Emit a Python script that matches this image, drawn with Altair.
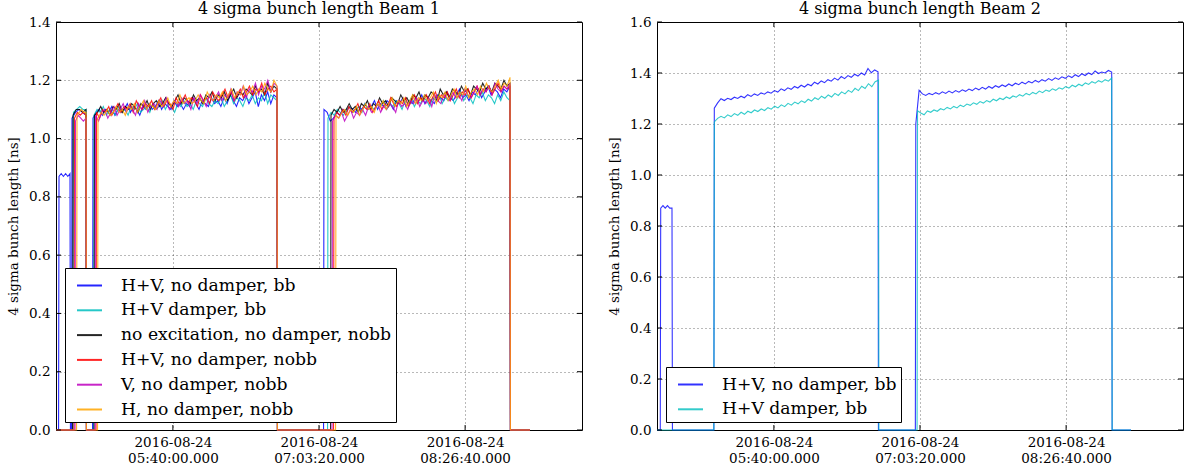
import altair as alt
import numpy as np
import pandas as pd

DAY = "2016-08-24"
X_MIN = "04:33:20"
X_MAX = "09:33:20"
DATA_START = "04:33:20"
DATA_END = "09:03:40"
X_TICKS = ["05:40:00", "07:03:20", "08:26:40"]

B1_NAMES = [
    "H+V, no damper, bb",
    "H+V damper, bb",
    "no excitation, no damper, nobb",
    "H+V, no damper, nobb",
    "V, no damper, nobb",
    "H, no damper, nobb",
]
B1_COLORS = ["#0000ff", "#00bfbf", "#000000", "#ff0000", "#bf00bf", "#ffa500"]
B2_NAMES = ["H+V, no damper, bb", "H+V damper, bb"]
B2_COLORS = ["#0000ff", "#00bfbf"]

B1_Y_TICKS = [0.0, 0.2, 0.4, 0.6, 0.8, 1.0, 1.2, 1.4]
B2_Y_TICKS = [0.0, 0.2, 0.4, 0.6, 0.8, 1.0, 1.2, 1.4, 1.6]

# ---------------- Beam 1 ----------------
b1_blue_spans = [("04:35:03", "04:41:19"), ("04:42:28", "04:50:27"),
                 ("04:54:26", "06:39:23"), ("07:06:11", "08:52:16")]
b1_blue_vals = [
    [0.87, 0.88, 0.87, 0.88, 0.87, 0.88],
    [1.07, 1.09, 1.10, 1.09, 1.08],
    [1.07, 1.09, 1.10, 1.08, 1.10, 1.09, 1.11, 1.08, 1.10, 1.09,
     1.10, 1.12, 1.09, 1.11, 1.10, 1.08, 1.11, 1.10, 1.12, 1.10,
     1.11, 1.13, 1.10, 1.12, 1.11, 1.10, 1.13, 1.11, 1.12, 1.10,
     1.12, 1.11, 1.14, 1.12, 1.10, 1.13, 1.12, 1.11, 1.14, 1.12,
     1.13, 1.11, 1.14, 1.12, 1.15, 1.13, 1.11, 1.14, 1.13, 1.15,
     1.12, 1.14, 1.16, 1.11, 1.15, 1.13, 1.16, 1.12, 1.15, 1.14],
    [1.10, 1.09, 1.06, 1.07, 1.09, 1.08, 1.10, 1.09, 1.11, 1.10,
     1.09, 1.11, 1.10, 1.12, 1.10, 1.11, 1.13, 1.10, 1.12, 1.11,
     1.13, 1.12, 1.10, 1.13, 1.12, 1.14, 1.11, 1.13, 1.12, 1.14,
     1.13, 1.15, 1.12, 1.14, 1.13, 1.12, 1.15, 1.14, 1.13, 1.16,
     1.14, 1.13, 1.15, 1.17, 1.14, 1.15, 1.13, 1.16, 1.15, 1.17,
     1.14, 1.16, 1.18, 1.15, 1.17, 1.16, 1.14, 1.17, 1.16, 1.18],
]
b1_cyan_spans = [("04:43:19", "04:50:27"), ("04:55:00", "06:39:23"), ("07:08:28", "08:52:16")]
b1_cyan_vals = [
    [1.09, 1.10, 1.11, 1.10, 1.10],
    [1.08, 1.10, 1.09, 1.11, 1.08, 1.10, 1.09, 1.08, 1.11, 1.09,
     1.10, 1.08, 1.11, 1.10, 1.12, 1.09, 1.10, 1.11, 1.09, 1.12,
     1.10, 1.11, 1.13, 1.10, 1.12, 1.11, 1.09, 1.12, 1.11, 1.13,
     1.11, 1.12, 1.10, 1.13, 1.12, 1.11, 1.14, 1.12, 1.11, 1.13,
     1.12, 1.14, 1.11, 1.13, 1.15, 1.12, 1.14, 1.13, 1.11, 1.14,
     1.13, 1.15, 1.12, 1.14, 1.13, 1.16, 1.12, 1.15, 1.14, 1.13],
    [1.07, 1.09, 1.08, 1.10, 1.09, 1.08, 1.10, 1.11, 1.09, 1.10,
     1.11, 1.09, 1.12, 1.10, 1.11, 1.10, 1.12, 1.11, 1.13, 1.10,
     1.12, 1.11, 1.13, 1.12, 1.10, 1.13, 1.12, 1.14, 1.11, 1.13,
     1.12, 1.14, 1.13, 1.11, 1.14, 1.13, 1.15, 1.12, 1.14, 1.13,
     1.15, 1.12, 1.14, 1.16, 1.13, 1.15, 1.14, 1.12, 1.15, 1.14,
     1.16, 1.13, 1.15, 1.14, 1.12, 1.15, 1.13, 1.16, 1.14, 1.13],
]
b1_black_spans = [("04:43:02", "04:50:27"), ("04:55:17", "06:39:23"), ("07:10:11", "08:52:16")]
b1_black_vals = [
    [1.08, 1.10, 1.10, 1.09, 1.10],
    [1.08, 1.09, 1.11, 1.09, 1.10, 1.08, 1.11, 1.10, 1.12, 1.09,
     1.11, 1.10, 1.12, 1.11, 1.09, 1.12, 1.11, 1.13, 1.10, 1.12,
     1.13, 1.11, 1.12, 1.14, 1.12, 1.11, 1.13, 1.15, 1.12, 1.14,
     1.13, 1.12, 1.15, 1.13, 1.14, 1.12, 1.15, 1.14, 1.16, 1.13,
     1.15, 1.14, 1.16, 1.13, 1.15, 1.17, 1.14, 1.16, 1.15, 1.17,
     1.16, 1.15, 1.18, 1.16, 1.17, 1.15, 1.19, 1.16, 1.18, 1.17],
    [1.08, 1.10, 1.09, 1.11, 1.09, 1.10, 1.12, 1.10, 1.11, 1.09,
     1.12, 1.11, 1.13, 1.10, 1.12, 1.11, 1.14, 1.12, 1.13, 1.11,
     1.14, 1.13, 1.12, 1.15, 1.13, 1.14, 1.12, 1.15, 1.14, 1.16,
     1.13, 1.15, 1.14, 1.16, 1.15, 1.13, 1.17, 1.15, 1.16, 1.14,
     1.17, 1.16, 1.15, 1.18, 1.16, 1.17, 1.15, 1.18, 1.17, 1.16,
     1.19, 1.17, 1.18, 1.16, 1.19, 1.18, 1.17, 1.20, 1.18, 1.19],
]
b1_red_spans = [("04:43:53", "04:50:27"), ("04:56:26", "06:39:23"), ("07:11:53", "08:52:16")]
b1_red_vals = [
    [1.07, 1.09, 1.08, 1.09, 1.08],
    [1.09, 1.07, 1.10, 1.09, 1.11, 1.08, 1.10, 1.12, 1.09, 1.11,
     1.10, 1.12, 1.09, 1.13, 1.11, 1.10, 1.12, 1.11, 1.13, 1.10,
     1.12, 1.14, 1.11, 1.13, 1.12, 1.10, 1.14, 1.12, 1.13, 1.15,
     1.12, 1.14, 1.13, 1.11, 1.15, 1.13, 1.14, 1.12, 1.16, 1.14,
     1.13, 1.15, 1.17, 1.14, 1.16, 1.13, 1.15, 1.17, 1.14, 1.16,
     1.18, 1.15, 1.17, 1.16, 1.19, 1.15, 1.17, 1.18, 1.16, 1.17],
    [1.07, 1.09, 1.08, 1.10, 1.08, 1.11, 1.09, 1.10, 1.12, 1.09,
     1.11, 1.10, 1.12, 1.09, 1.11, 1.13, 1.10, 1.12, 1.11, 1.14,
     1.12, 1.11, 1.13, 1.12, 1.14, 1.11, 1.13, 1.15, 1.12, 1.14,
     1.13, 1.15, 1.12, 1.14, 1.16, 1.13, 1.15, 1.14, 1.16, 1.13,
     1.15, 1.17, 1.14, 1.16, 1.15, 1.17, 1.14, 1.16, 1.18, 1.15,
     1.17, 1.16, 1.18, 1.15, 1.17, 1.19, 1.16, 1.18, 1.17, 1.18],
]
b1_magenta_spans = [("04:44:27", "04:50:27"), ("04:55:52", "06:39:23"), ("07:11:02", "08:52:16")]
b1_magenta_vals = [
    [1.06, 1.08, 1.07, 1.06, 1.07],
    [1.08, 1.06, 1.09, 1.10, 1.07, 1.09, 1.11, 1.08, 1.10, 1.12,
     1.09, 1.11, 1.10, 1.08, 1.12, 1.10, 1.13, 1.09, 1.11, 1.12,
     1.10, 1.13, 1.11, 1.14, 1.10, 1.12, 1.13, 1.11, 1.14, 1.12,
     1.13, 1.10, 1.14, 1.12, 1.15, 1.13, 1.11, 1.15, 1.13, 1.14,
     1.16, 1.13, 1.15, 1.14, 1.17, 1.13, 1.16, 1.15, 1.18, 1.14,
     1.17, 1.16, 1.19, 1.15, 1.18, 1.17, 1.20, 1.16, 1.19, 1.18],
    [1.06, 1.08, 1.07, 1.09, 1.06, 1.08, 1.10, 1.07, 1.09, 1.08,
     1.10, 1.08, 1.11, 1.09, 1.10, 1.12, 1.09, 1.11, 1.10, 1.12,
     1.11, 1.09, 1.13, 1.11, 1.12, 1.10, 1.13, 1.12, 1.14, 1.11,
     1.13, 1.12, 1.14, 1.11, 1.15, 1.13, 1.12, 1.15, 1.14, 1.13,
     1.16, 1.14, 1.15, 1.13, 1.17, 1.15, 1.14, 1.16, 1.18, 1.15,
     1.17, 1.16, 1.18, 1.15, 1.19, 1.17, 1.16, 1.18, 1.17, 1.19],
]
b1_orange_spans = [("04:45:19", "04:50:27"), ("04:57:17", "06:39:23"), ("07:13:02", "08:52:16")]
b1_orange_vals = [
    [1.08, 1.09, 1.10, 1.09, 1.09],
    [1.07, 1.09, 1.08, 1.10, 1.08, 1.09, 1.11, 1.09, 1.10, 1.08,
     1.11, 1.10, 1.12, 1.09, 1.11, 1.13, 1.10, 1.12, 1.11, 1.10,
     1.13, 1.11, 1.12, 1.14, 1.11, 1.13, 1.12, 1.15, 1.12, 1.13,
     1.14, 1.12, 1.13, 1.15, 1.13, 1.12, 1.16, 1.14, 1.13, 1.15,
     1.14, 1.16, 1.13, 1.15, 1.17, 1.14, 1.16, 1.15, 1.18, 1.15,
     1.16, 1.18, 1.15, 1.17, 1.16, 1.19, 1.17, 1.16, 1.20, 1.18],
    [1.08, 1.07, 1.09, 1.10, 1.08, 1.10, 1.09, 1.11, 1.08, 1.10,
     1.12, 1.10, 1.11, 1.09, 1.12, 1.11, 1.13, 1.10, 1.12, 1.14,
     1.11, 1.13, 1.12, 1.14, 1.11, 1.13, 1.15, 1.12, 1.14, 1.13,
     1.15, 1.13, 1.14, 1.16, 1.12, 1.15, 1.14, 1.16, 1.13, 1.15,
     1.17, 1.14, 1.16, 1.15, 1.18, 1.14, 1.16, 1.17, 1.15, 1.18,
     1.16, 1.19, 1.17, 1.16, 1.18, 1.20, 1.17, 1.19, 1.18, 1.21],
]

# ---------------- Beam 2 ----------------
b2_blue_spans = [("04:35:27", "04:41:53"), ("05:06:01", "06:39:23"), ("07:00:56", "08:52:40")]
b2_blue_vals = [
    [0.87, 0.88, 0.87, 0.88, 0.87, 0.87],
    [1.262, 1.283, 1.299, 1.292, 1.301, 1.296, 1.305, 1.300, 1.309, 1.303,
     1.315, 1.308, 1.318, 1.312, 1.322, 1.317, 1.326, 1.321, 1.331, 1.325,
     1.338, 1.331, 1.342, 1.336, 1.347, 1.341, 1.352, 1.345, 1.356, 1.350,
     1.364, 1.357, 1.369, 1.362, 1.374, 1.368, 1.380, 1.372, 1.386, 1.378,
     1.390, 1.383, 1.395, 1.388, 1.400, 1.392, 1.418, 1.401, 1.412, 1.405],
    [1.200, 1.332, 1.318, 1.312, 1.320, 1.315, 1.323, 1.317, 1.326, 1.320,
     1.329, 1.322, 1.331, 1.325, 1.334, 1.328, 1.337, 1.331, 1.341, 1.334,
     1.344, 1.337, 1.347, 1.340, 1.350, 1.344, 1.353, 1.347, 1.357, 1.350,
     1.360, 1.354, 1.364, 1.357, 1.367, 1.361, 1.371, 1.364, 1.374, 1.368,
     1.378, 1.371, 1.381, 1.375, 1.385, 1.379, 1.389, 1.382, 1.393, 1.386,
     1.397, 1.390, 1.400, 1.394, 1.408, 1.398, 1.404, 1.400, 1.410, 1.404],
]
b2_cyan_spans = [("05:06:01", "06:39:40"), ("07:01:55", "08:52:40")]
b2_cyan_vals = [
    [1.208, 1.222, 1.230, 1.224, 1.236, 1.229, 1.241, 1.234, 1.246, 1.238,
     1.250, 1.244, 1.255, 1.249, 1.259, 1.253, 1.264, 1.258, 1.270, 1.263,
     1.275, 1.268, 1.281, 1.274, 1.286, 1.279, 1.291, 1.284, 1.297, 1.290,
     1.303, 1.296, 1.309, 1.301, 1.314, 1.306, 1.320, 1.312, 1.326, 1.318,
     1.332, 1.324, 1.340, 1.331, 1.348, 1.339, 1.358, 1.346, 1.366, 1.372],
    [1.252, 1.243, 1.236, 1.251, 1.246, 1.255, 1.250, 1.260, 1.255, 1.265,
     1.259, 1.269, 1.263, 1.274, 1.268, 1.278, 1.273, 1.283, 1.277, 1.288,
     1.282, 1.292, 1.286, 1.297, 1.291, 1.301, 1.296, 1.306, 1.300, 1.310,
     1.305, 1.315, 1.309, 1.320, 1.314, 1.324, 1.318, 1.329, 1.323, 1.333,
     1.328, 1.338, 1.332, 1.342, 1.337, 1.347, 1.341, 1.352, 1.346, 1.356,
     1.350, 1.361, 1.355, 1.366, 1.360, 1.370, 1.364, 1.374, 1.368, 1.380],
]

W, H = 526, 408
SERIF = "DejaVu Serif"


def ms(hms):
    return int(pd.Timestamp(f"{DAY}T{hms}Z").value // 1_000_000)


def series_frame(name, spans, vals):
    ts, vs = [ms(DATA_START)], [0.0]
    for (s, e), v in zip(spans, vals):
        a, b = ms(s), ms(e)
        ts.append(a - 15000)
        vs.append(0.0)
        ts.extend(np.linspace(a, b, len(v)).tolist())
        vs.extend(v)
        ts.append(b + 15000)
        vs.append(0.0)
    ts.append(ms(DATA_END))
    vs.append(0.0)
    return pd.DataFrame({"t": ts, "v": vs, "series": name})


b1_df = pd.concat([
    series_frame(B1_NAMES[0], b1_blue_spans, b1_blue_vals),
    series_frame(B1_NAMES[1], b1_cyan_spans, b1_cyan_vals),
    series_frame(B1_NAMES[2], b1_black_spans, b1_black_vals),
    series_frame(B1_NAMES[3], b1_red_spans, b1_red_vals),
    series_frame(B1_NAMES[4], b1_magenta_spans, b1_magenta_vals),
    series_frame(B1_NAMES[5], b1_orange_spans, b1_orange_vals),
], ignore_index=True)

b2_df = pd.concat([
    series_frame(B2_NAMES[0], b2_blue_spans, b2_blue_vals),
    series_frame(B2_NAMES[1], b2_cyan_spans, b2_cyan_vals),
], ignore_index=True)


def panel(df, names, colors, title, ymax, yticks, legend_y, opacity):
    xenc = alt.X(
        "t:T",
        scale=alt.Scale(type="utc", domain=[ms(X_MIN), ms(X_MAX)], nice=False),
        axis=alt.Axis(
            values=[ms(t) for t in X_TICKS],
            labelExpr="[utcFormat(datum.value, '%Y-%m-%d'), utcFormat(datum.value, '%H:%M:%S.%L')]",
            labelLineHeight=16.5,
            labelPadding=5,
        ),
        title=None,
    )
    yenc = alt.Y(
        "v:Q",
        scale=alt.Scale(domain=[0, ymax], nice=False, zero=True),
        axis=alt.Axis(values=yticks, format=".1f", labelPadding=6, titlePadding=8),
        title="4 sigma bunch length [ns]",
    )
    color = alt.Color(
        "series:N",
        scale=alt.Scale(domain=names, range=colors),
        legend=alt.Legend(
            orient="none", legendX=9, legendY=legend_y, title=None,
            symbolType="stroke", symbolSize=625, symbolStrokeWidth=2,
            symbolOpacity=opacity, symbolOffset=7,
            labelFont=SERIF, labelFontSize=17.2, labelColor="black",
            labelOffset=18, labelLimit=500,
            strokeColor="black", fillColor="white", padding=4,
            rowPadding=2.8, cornerRadius=0,
        ),
    )
    layers = []
    for n in names:
        layers.append(
            alt.Chart(df)
            .transform_filter(alt.datum.series == n)
            .mark_line(strokeWidth=1.1, opacity=opacity)
            .encode(x=xenc, y=yenc, color=color)
        )
    xt = pd.DataFrame({"t": [ms(t) for t in X_TICKS]})
    yt = pd.DataFrame({"v": yticks})
    tick = dict(color="black", strokeWidth=1)
    layers += [
        alt.Chart(xt).mark_rule(**tick).encode(x=xenc, y=alt.value(0), y2=alt.value(5)),
        alt.Chart(xt).mark_rule(**tick).encode(x=xenc, y=alt.value(H), y2=alt.value(H - 5)),
        alt.Chart(yt).mark_rule(**tick).encode(y=yenc, x=alt.value(0), x2=alt.value(5)),
        alt.Chart(yt).mark_rule(**tick).encode(y=yenc, x=alt.value(W), x2=alt.value(W - 5)),
    ]
    return alt.layer(*layers).properties(
        width=W, height=H,
        title=alt.TitleParams(title, font=SERIF, fontSize=16, fontWeight="normal",
                              color="black", offset=-2, anchor="middle"),
    )


left = panel(b1_df, B1_NAMES, B1_COLORS, "4 sigma bunch length Beam 1", 1.4, B1_Y_TICKS, 246, 0.85)
right = panel(b2_df, B2_NAMES, B2_COLORS, "4 sigma bunch length Beam 2", 1.6, B2_Y_TICKS, 345, 0.8)

chart = (
    alt.hconcat(left, right, spacing=24)
    .resolve_scale(color="independent")
    .resolve_legend(color="independent")
    .properties(padding={"left": 6, "top": 0, "right": 6, "bottom": 0}, background="white")
    .configure_view(stroke="black", strokeWidth=1)
    .configure_axis(
        domain=False, ticks=False,
        grid=True, gridColor="#000000", gridOpacity=0.55, gridDash=[1, 3], gridWidth=1,
        labelFont=SERIF, labelFontSize=13.5, labelColor="black",
        titleFont=SERIF, titleFontSize=13.5, titleFontWeight="normal", titleColor="black",
    )
)

chart.save("out.html", embed_options={"renderer": "svg", "actions": False})
